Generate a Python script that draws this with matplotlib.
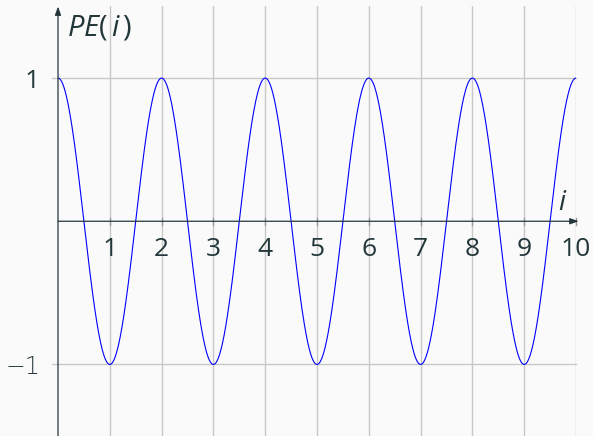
import numpy as np
import matplotlib.pyplot as plt

# PE(i) = cos(pi * i), plotted for i in [0, 10]
i_min, i_max = 0, 10
amplitude = 1.0
period = 2.0
x_ticks = [1, 2, 3, 4, 5, 6, 7, 8, 9, 10]
y_ticks = [-1, 1]
y_labels = ['\u22121', '1']

fg = '#23373b'
bg = '#fafafa'
plt.rcParams['font.family'] = ['Open Sans', 'DejaVu Sans']
plt.rcParams['mathtext.fontset'] = 'custom'
plt.rcParams['mathtext.rm'] = 'Open Sans'
plt.rcParams['mathtext.it'] = 'Open Sans:italic'

fig = plt.figure(figsize=(5.93, 4.36), dpi=100, facecolor=bg)
ax = fig.add_axes([58/593, 0, (576-58)/593, 1 - 6.5/436])
ax.set_facecolor(bg)
ax.set_xlim(i_min, i_max)
ax.set_ylim(-1.5, 1.5)

i = np.linspace(i_min, i_max, 2000)
pe = amplitude * np.cos(2*np.pi*i/period)

for x in x_ticks:
    ax.axvline(x, color='#c8c8c8', lw=1, zorder=0)
for y in y_ticks:
    ax.axhline(y, xmin=-6/518, xmax=1, color='#c8c8c8', lw=1, zorder=0, clip_on=False)

ax.plot(i, pe, color='#0000ff', lw=0.8, zorder=3)

for s in ax.spines.values():
    s.set_visible(False)

# axes with arrow heads
arrow = dict(arrowstyle='-|>,head_length=0.5,head_width=0.18', color=fg, lw=0.9,
             shrinkA=0, shrinkB=0)
ax.annotate('', xy=(i_max + 0.05, 0), xytext=(i_min, 0),
            arrowprops=arrow, annotation_clip=False, zorder=4)
ax.annotate('', xy=(0, 1.5), xytext=(0, -1.6),
            arrowprops=arrow, annotation_clip=False, zorder=4)

# small tick marks on the axes
for x in x_ticks:
    ax.plot([x, x], [-0.025, 0.025], color='#9a9a9a', lw=1, zorder=2, clip_on=False)

ax.set_xticks([])
ax.set_yticks(y_ticks)
ax.set_yticklabels(y_labels)
ax.tick_params(axis='y', length=0, labelsize=19, colors=fg, pad=13)
ax.get_yticklabels()[0].set_family('DejaVu Sans')
ax.get_yticklabels()[0].set_fontsize(17)
ax.get_yticklabels()[0].set_fontweight('light')

for x in x_ticks:
    ax.text(x, -0.11, str(x), ha='center', va='top', fontsize=19, color=fg)

ax.text(0.18, 1.35, r'$PE(\,i\,)$', fontsize=21, color=fg, va='center', ha='left')
ax.text(9.75, 0.13, r'$i$', fontsize=20, color=fg, va='center', ha='center')

fig.savefig('out.png', dpi=100, facecolor=bg)
